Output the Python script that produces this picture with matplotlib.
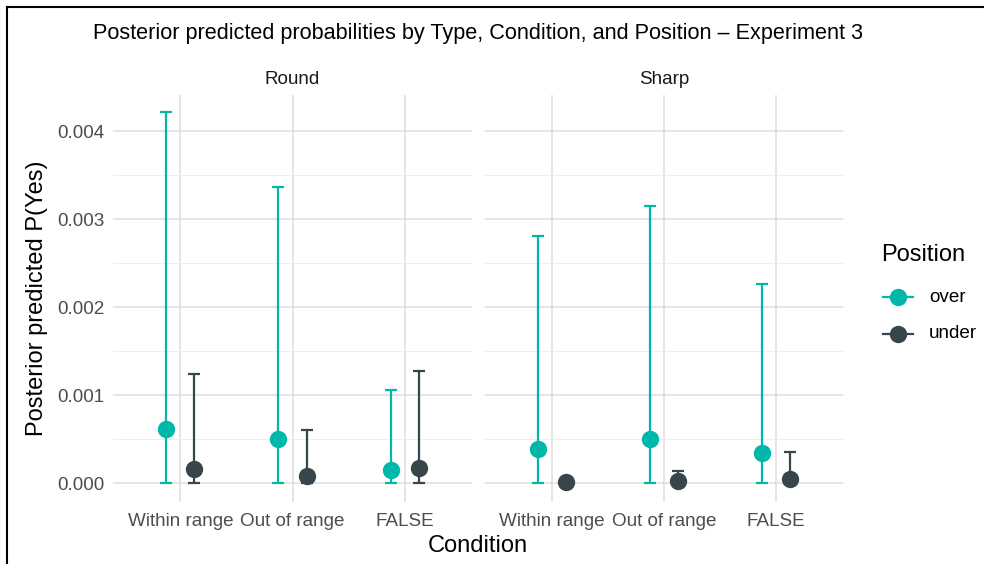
import matplotlib
matplotlib.use("Agg")
import matplotlib.pyplot as plt
from matplotlib.lines import Line2D
import numpy as np

plt.rcParams['font.family'] = ['Liberation Sans', 'DejaVu Sans']

types = ["Round", "Sharp"]
conditions = ["Within range", "Out of range", "FALSE"]
positions = ["over", "under"]

# estimates [type][condition]
over_est = {"Round": [0.000614, 0.000500, 0.000148], "Sharp": [0.000386, 0.000500, 0.000340]}
over_lo = {"Round": [0.0, 0.0, 0.0], "Sharp": [0.0, 0.0, 0.0]}
over_hi = {"Round": [0.00422, 0.00336, 0.00106], "Sharp": [0.00281, 0.00315, 0.00226]}
under_est = {"Round": [0.000159, 0.000080, 0.000170], "Sharp": [0.000010, 0.000020, 0.000050]}
under_lo = {"Round": [0.0, 0.0, 0.0], "Sharp": [0.0, 0.0, 0.0]}
under_hi = {"Round": [0.00124, 0.00060, 0.00127], "Sharp": [0.00003, 0.000136, 0.00035]}

colors = {"over": "#00B8A9", "under": "#37464B"}
series = {"over": (over_est, over_lo, over_hi), "under": (under_est, under_lo, under_hi)}
offsets = {"over": -0.125, "under": 0.125}

W, H = 984, 564
fig = plt.figure(figsize=(W / 100, H / 100), dpi=100)

bottom = (H - 501.5) / H
top = (H - 95) / H
panels = [(113, 359), (485, 358)]
tick_fs = 13.6
for i, t in enumerate(types):
    l, w = panels[i]
    ax = fig.add_axes([l / W, bottom, w / W, top - bottom])
    x = np.arange(len(conditions))
    for p in positions:
        est, lo, hi = series[p]
        e = np.array(est[t]); lw_ = np.array(lo[t]); hw = np.array(hi[t])
        ax.errorbar(x + offsets[p], e, yerr=[e - lw_, hw - e], fmt='none',
                    ecolor=colors[p], elinewidth=1.6, capsize=4.3, capthick=1.6, zorder=3)
        ax.plot(x + offsets[p], e, 'o', color=colors[p], markersize=12.5, zorder=4,
                markeredgewidth=0)
    ax.set_xlim(-0.6, len(conditions) - 1 + 0.6)
    ax.set_ylim(-0.00021, 0.00441)
    ax.set_xticks(x)
    ax.set_xticklabels(conditions, fontsize=tick_fs, color="#4d4d4d")
    ax.set_yticks([0, 0.001, 0.002, 0.003, 0.004])
    ax.set_yticks([0.0005, 0.0015, 0.0025, 0.0035], minor=True)
    if i == 0:
        ax.set_yticklabels(["0.000", "0.001", "0.002", "0.003", "0.004"], fontsize=tick_fs, color="#4d4d4d")
    else:
        ax.set_yticklabels([])
    ax.tick_params(axis='x', which='both', length=0, pad=8)
    ax.tick_params(axis='y', which='both', length=0, pad=6)
    ax.grid(True, which='major', color="#dedede", linewidth=1.1)
    ax.grid(True, which='minor', axis='y', color="#eeeeee", linewidth=0.7)
    ax.set_axisbelow(True)
    for s in ax.spines.values():
        s.set_visible(False)
    ax.set_title(t, fontsize=tick_fs, color="#1a1a1a", pad=8)

fig.text(478 / W, 1 - 34 / H, "Posterior predicted probabilities by Type, Condition, and Position \u2013 Experiment 3",
         ha='center', va='center', fontsize=15.6, color="black")
fig.text(478 / W, 1 - 546 / H, "Condition", ha='center', va='center', fontsize=17)
fig.text(37 / W, 1 - 298 / H, "Posterior predicted P(Yes)", ha='center', va='center',
         rotation=90, fontsize=17)

# legend (drawn in figure coordinates)
fig.text(881 / W, 1 - 255 / H, "Position", ha='left', va='center', fontsize=17)
for p, yy in zip(positions, [297, 334]):
    fig.add_artist(Line2D([883 / W, 898 / W, 913 / W], [1 - yy / H] * 3, color=colors[p],
                          linewidth=1.6, marker='o', markersize=12.5, markevery=[1],
                          markeredgewidth=0, transform=fig.transFigure))
    fig.text(929 / W, 1 - yy / H, p, ha='left', va='center', fontsize=tick_fs, color="black")

# screenshot border (top and left)
fig.add_artist(Line2D([7 / W, 7 / W], [0, 1 - 7 / H], color="black", linewidth=1.5,
                      transform=fig.transFigure))
fig.add_artist(Line2D([7 / W, 1], [1 - 7 / H, 1 - 7 / H], color="black", linewidth=1.5,
                      transform=fig.transFigure))

fig.savefig("out.png", dpi=100)
